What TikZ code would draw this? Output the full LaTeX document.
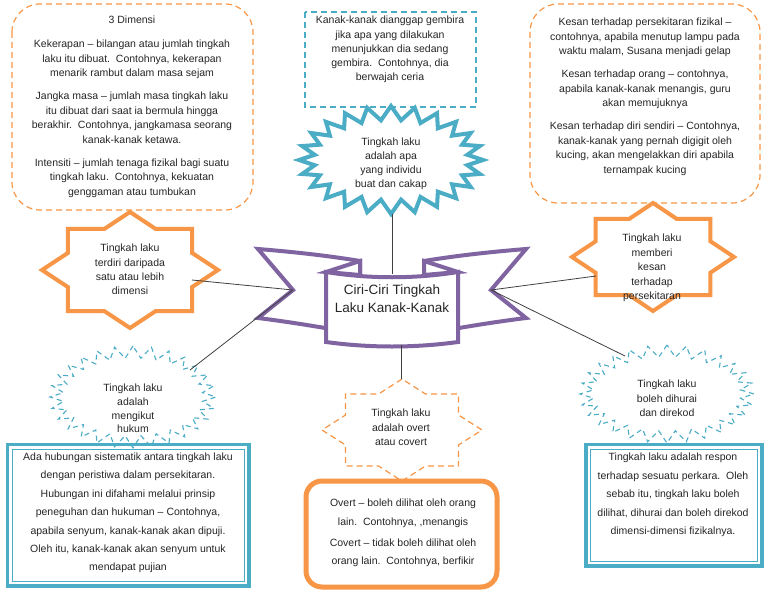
\documentclass[tikz,border=0pt]{standalone}
\usepackage{fontspec}
\setmainfont{Liberation Sans}
\definecolor{orng}{HTML}{F79646}
\definecolor{tealc}{HTML}{4BACC6}
\definecolor{purp}{HTML}{8064A2}
\definecolor{conn}{HTML}{404040}
\definecolor{txtc}{HTML}{262626}
% #1 style, #2 cx, #3 cy, #4 rx, #5 ry, #6 inner rx, #7 inner ry, #8 points, #9 = 2*points-1
\newcommand\mystar[9]{\path[#1] (#2,{#3-#5}) \foreach \k in {1,...,#9}{ -- ({#2+(#4-(#4-#6)*mod(\k,2))*cos(90+\k*180/#8)},{#3-(#5-(#5-#7)*mod(\k,2))*sin(90+\k*180/#8)})} -- cycle;}
\tikzset{
  txt/.style={align=center, inner sep=0pt, text=txtc, font=\fontsize{10.5}{14.5}\selectfont},
  wide/.style={font=\fontsize{10.5}{18.4}\selectfont},
  orangedash/.style={draw=orng, line width=1.2pt, dash pattern=on 6pt off 4pt},
  tealdash/.style={draw=tealc, line width=1.2pt, dash pattern=on 6pt off 4pt},
  orangestar/.style={draw=orng, line width=4pt, line join=miter},
  sealstyle/.style={draw=tealc, line width=4pt, line join=miter},
  burst/.style={draw=tealc, line width=1.1pt, dash pattern=on 5pt off 4pt},
  ribbon/.style={draw=purp, fill=white, line width=4pt, line join=miter},
  connector/.style={draw=conn, line width=0.8pt},
}
\begin{document}
\begin{tikzpicture}[x=1pt,y=-1pt]
\useasboundingbox[fill=white] (0,0) rectangle (768,594);

% ---- top boxes
\draw[orangedash, rounded corners=28pt] (12,4) rectangle (253,210);
\draw[tealdash] (305,12) rectangle (476,107);
\draw[orangedash, rounded corners=28pt] (530,4) rectangle (760,203);

% ---- stars
\mystar{sealstyle}{391}{160}{92}{54}{77}{40}{24}{47}
\mystar{orangestar}{130}{270}{88}{58}{67.3}{44.4}{8}{15}
\mystar{orangestar}{653}{257}{81}{54}{62}{41.3}{8}{15}
\mystar{burst}{133}{397}{83}{51}{70}{39}{28}{55}
\mystar{burst}{667}{394}{87}{49}{74}{37}{28}{55}
\mystar{orangedash}{402}{430}{80}{51}{61.2}{39}{8}{15}

% ---- bottom boxes
\draw[draw=tealc, line width=3.5pt] (7.5,444.5) rectangle (249,586);
\draw[draw=tealc, line width=0.9pt] (12,449) rectangle (244.5,581.5);
\draw[draw=tealc, line width=3.5pt] (586,444.5) rectangle (762,566);
\draw[draw=tealc, line width=0.9pt] (590.5,449) rectangle (757.5,561.5);
\draw[draw=orng, line width=5pt, rounded corners=16pt] (306,481) rectangle (497,587);

% ---- ribbon
\path[ribbon] (258,249) .. controls (295,252) and (330,256) .. (360,261) -- (360,334)
   .. controls (320,327) and (290,322) .. (258,318) -- (293,290) -- cycle;
\path[ribbon] (526,249) .. controls (489,252) and (454,256) .. (424,261) -- (424,334)
   .. controls (464,327) and (494,322) .. (526,318) -- (491,290) -- cycle;
\path[ribbon] (326,272) -- (360,261) -- (360,275) -- cycle;
\path[ribbon] (458,272) -- (424,261) -- (424,275) -- cycle;
\path[ribbon] (326,272) .. controls (370,279) and (414,279) .. (458,272) -- (458,342)
   .. controls (414,348) and (370,348) .. (326,342) -- cycle;

% ---- connector ends
\coordinate (sealB) at (392,214);
\coordinate (ribT) at (392,274);
\coordinate (ribB) at (401,345);
\coordinate (ovStar) at (401,379);
\coordinate (ribL) at (293,290);
\coordinate (ribR) at (491,290);
\coordinate (lstarIn) at (192,280);
\coordinate (lburstIn) at (190,370);
\coordinate (rstarIn) at (596,276);
\coordinate (rburstIn) at (625,356);

\draw[connector] (sealB) -- (ribT);
\draw[connector] (ribB) -- (ovStar);
\draw[connector] (ribL) -- (lstarIn);
\draw[connector] (ribL) -- (lburstIn);
\draw[connector] (ribR) -- (rstarIn);
\draw[connector] (ribR) -- (rburstIn);

% ---- texts
\node[txt] (dimensi) at (132,106.5) {3 Dimensi\\[10pt]
Kekerapan – bilangan atau jumlah tingkah\\
laku itu dibuat.\ \ Contohnya, kekerapan\\
menarik rambut dalam masa sejam\\[8.5pt]
Jangka masa – jumlah masa tingkah laku\\
itu dibuat dari saat ia bermula hingga\\
berakhir.\ \ Contohnya, jangkamasa seorang\\
kanak-kanak ketawa.\\[8.5pt]
Intensiti – jumlah tenaga fizikal bagi suatu\\
tingkah laku.\ \ Contohnya, kekuatan\\
genggaman atau tumbukan};

\node[txt, font=\fontsize{10.5}{14.2}\selectfont] (gembira) at (390,49.5) {Kanak-kanak dianggap gembira\\
jika apa yang dilakukan\\
menunjukkan dia sedang\\
gembira.\ \ Contohnya, dia\\
berwajah ceria};

\node[txt] (kesan) at (645,97) {Kesan terhadap persekitaran fizikal –\\
contohnya, apabila menutup lampu pada\\
waktu malam, Susana menjadi gelap\\[8.5pt]
Kesan terhadap orang – contohnya,\\
apabila kanak-kanak menangis, guru\\
akan memujuknya\\[8.5pt]
Kesan terhadap diri sendiri – Contohnya,\\
kanak-kanak yang pernah digigit oleh\\
kucing, akan mengelakkan diri apabila\\
ternampak kucing};

\node[txt, font=\fontsize{10.5}{14}\selectfont] (seal) at (391,164) {Tingkah laku\\adalah apa\\yang individu\\buat dan cakap};

\node[txt, font=\fontsize{10.5}{14.3}\selectfont] (lstar) at (130,269.5) {Tingkah laku\\terdiri daripada\\satu atau lebih\\dimensi};

\node[txt] (rstar) at (652,268) {Tingkah laku\\memberi\\kesan\\terhadap\\persekitaran};

\node[txt, font=\fontsize{10.5}{13.8}\selectfont] (lburst) at (133,408.5) {Tingkah laku\\adalah\\mengikut\\hukum};

\node[txt] (rburst) at (667,398.5) {Tingkah laku\\boleh dihurai\\dan direkod};

\node[txt] (ovstar) at (401,427.5) {Tingkah laku\\adalah overt\\atau covert};

\node[txt, wide] (overt) at (403,533) {Overt – boleh dilihat oleh orang\\
lain.\ \ Contohnya, ,menangis\\[3pt]
Covert – tidak boleh dilihat oleh\\
orang lain.\ \ Contohnya, berfikir};

\node[txt, wide] (hubungan) at (128,513) {Ada hubungan sistematik antara tingkah laku\\
dengan peristiwa dalam persekitaran.\\
Hubungan ini difahami melalui prinsip\\
peneguhan dan hukuman – Contohnya,\\
apabila senyum, kanak-kanak akan dipuji.\\
Oleh itu, kanak-kanak akan senyum untuk\\
mendapat pujian};

\node[txt, wide] (respon) at (673,495) {Tingkah laku adalah respon\\
terhadap sesuatu perkara.\ \ Oleh\\
sebab itu, tingkah laku boleh\\
dilihat, dihurai dan boleh direkod\\
dimensi-dimensi fizikalnya.};

\node[txt, font=\fontsize{13.5}{18}\selectfont] (title) at (392,299) {Ciri-Ciri Tingkah\\Laku Kanak-Kanak};
\end{tikzpicture}
\end{document}
